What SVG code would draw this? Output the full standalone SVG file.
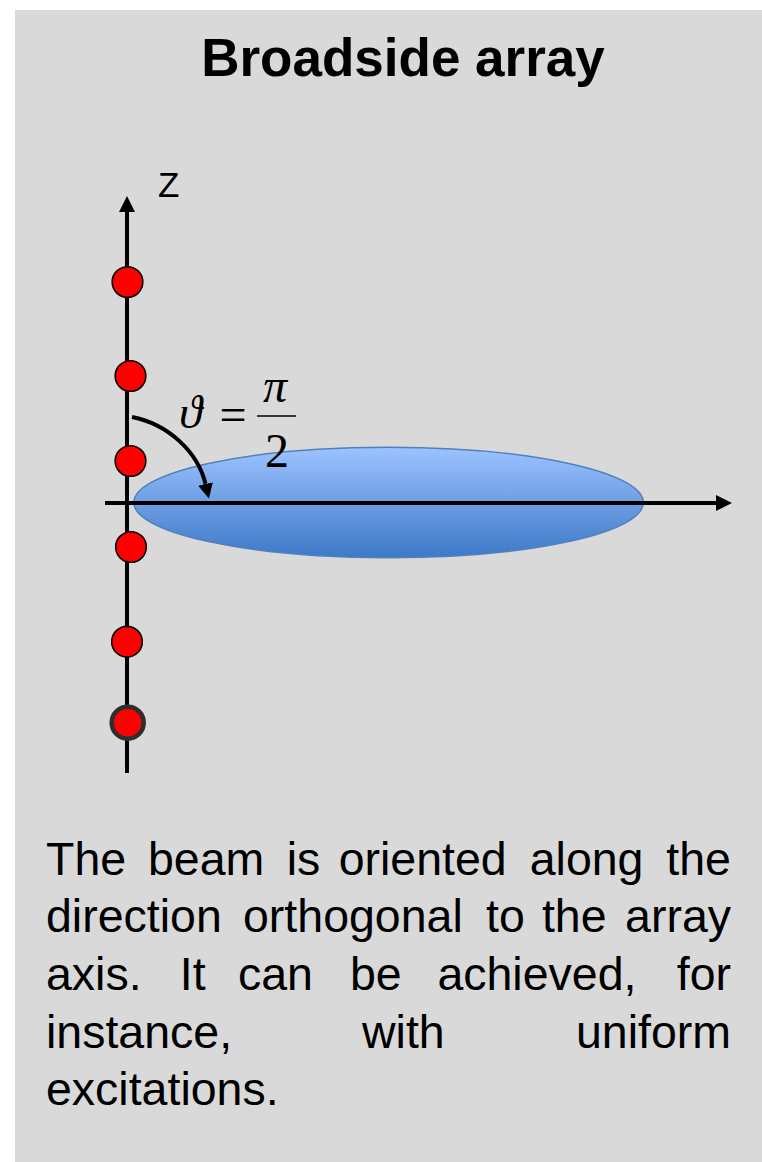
<svg xmlns="http://www.w3.org/2000/svg" width="762" height="1162" viewBox="0 0 762 1162">
  <style>
    .sans { font-family: "Liberation Sans", Arial, sans-serif; fill: #000; }
    .serif { font-family: "Liberation Serif", "DejaVu Serif", "Times New Roman", serif; fill: #000; }
    .axis { stroke: #000; stroke-width: 4; fill: none; }
    .elem { fill: #FF0000; stroke: #000; stroke-width: 1.6; }
    .body { font-size: 46.5px; }
  </style>
  <defs>
    <linearGradient id="beamGrad" x1="0" y1="0" x2="0" y2="1">
      <stop offset="0" stop-color="#9DC3FF"/>
      <stop offset="1" stop-color="#3D79C8"/>
    </linearGradient>
    <marker id="axisHead" viewBox="0 0 16 16" refX="0" refY="8" markerWidth="16" markerHeight="16" markerUnits="userSpaceOnUse" orient="auto">
      <path d="M0,0 L16,8 L0,16 z" fill="#000"/>
    </marker>
    <marker id="arcHead" viewBox="0 0 15 15" refX="0" refY="7.5" markerWidth="15" markerHeight="15" markerUnits="userSpaceOnUse" orient="auto">
      <path d="M0,0 L15,7.5 L0,15 z" fill="#000"/>
    </marker>
  </defs>

  <rect id="background" x="15" y="10" width="760" height="1160" fill="#D9D9D9"/>

  <g id="title">
    <text class="sans" x="403" y="76" font-size="53" font-weight="bold" text-anchor="middle">Broadside array</text>
  </g>

  <g id="beam">
    <ellipse cx="388.6" cy="502.5" rx="254.8" ry="55.3" fill="url(#beamGrad)" stroke="#4F81BD" stroke-width="1.5"/>
  </g>

  <g id="connectors">
    <line id="x-axis" class="axis" x1="105" y1="503" x2="716" y2="503" marker-end="url(#axisHead)"/>
    <line id="z-axis" class="axis" x1="127" y1="773" x2="127" y2="212" marker-end="url(#axisHead)"/>
    <path id="theta-arc" class="axis" stroke-width="3.5" d="M132,417 C168,424 198,452 205.5,484" marker-end="url(#arcHead)"/>
  </g>

  <g id="z-label">
    <text class="sans" x="158" y="197" font-size="35">Z</text>
  </g>

  <g id="element-1"><circle class="elem" cx="127.5" cy="282" r="15.3"/></g>
  <g id="element-2"><circle class="elem" cx="130.5" cy="376" r="15.3"/></g>
  <g id="element-3"><circle class="elem" cx="130.5" cy="461" r="15.3"/></g>
  <g id="element-4"><circle class="elem" cx="131" cy="547" r="15.3"/></g>
  <g id="element-5"><circle class="elem" cx="127" cy="641.7" r="15.3"/></g>
  <g id="element-6"><circle cx="127.7" cy="722.7" r="16" fill="#FF0000" stroke="#2E2E2E" stroke-width="4.5"/></g>

  <g id="angle-label">
    <text class="serif" x="179" y="428" font-size="47" font-style="italic">ϑ</text>
    <text class="serif" x="233" y="430.5" font-size="48" text-anchor="middle">=</text>
    <line x1="257" y1="416" x2="296" y2="416" stroke="#000" stroke-width="1.6"/>
    <text class="serif" x="275" y="402" font-size="48" font-style="italic" text-anchor="middle">π</text>
    <text class="serif" x="277" y="467" font-size="48" text-anchor="middle">2</text>
  </g>

  <g id="description">
    <text class="sans body" y="875"><tspan x="46">The</tspan><tspan x="148">beam</tspan><tspan x="286.7">is</tspan><tspan x="338.7">oriented</tspan><tspan x="529.7">along</tspan><tspan x="731" text-anchor="end">the</tspan></text>
    <text class="sans body" y="932"><tspan x="46">direction</tspan><tspan x="243">orthogonal</tspan><tspan x="486">to</tspan><tspan x="541.9">the</tspan><tspan x="731" text-anchor="end">array</tspan></text>
    <text class="sans body" y="990"><tspan x="46">axis.</tspan><tspan x="179.8">It</tspan><tspan x="238">can</tspan><tspan x="350">be</tspan><tspan x="437.4">achieved,</tspan><tspan x="731" text-anchor="end">for</tspan></text>
    <text class="sans body" y="1048"><tspan x="46">instance,</tspan><tspan x="362">with</tspan><tspan x="731" text-anchor="end">uniform</tspan></text>
    <text class="sans body" y="1105"><tspan x="46">excitations.</tspan></text>
  </g>
</svg>
